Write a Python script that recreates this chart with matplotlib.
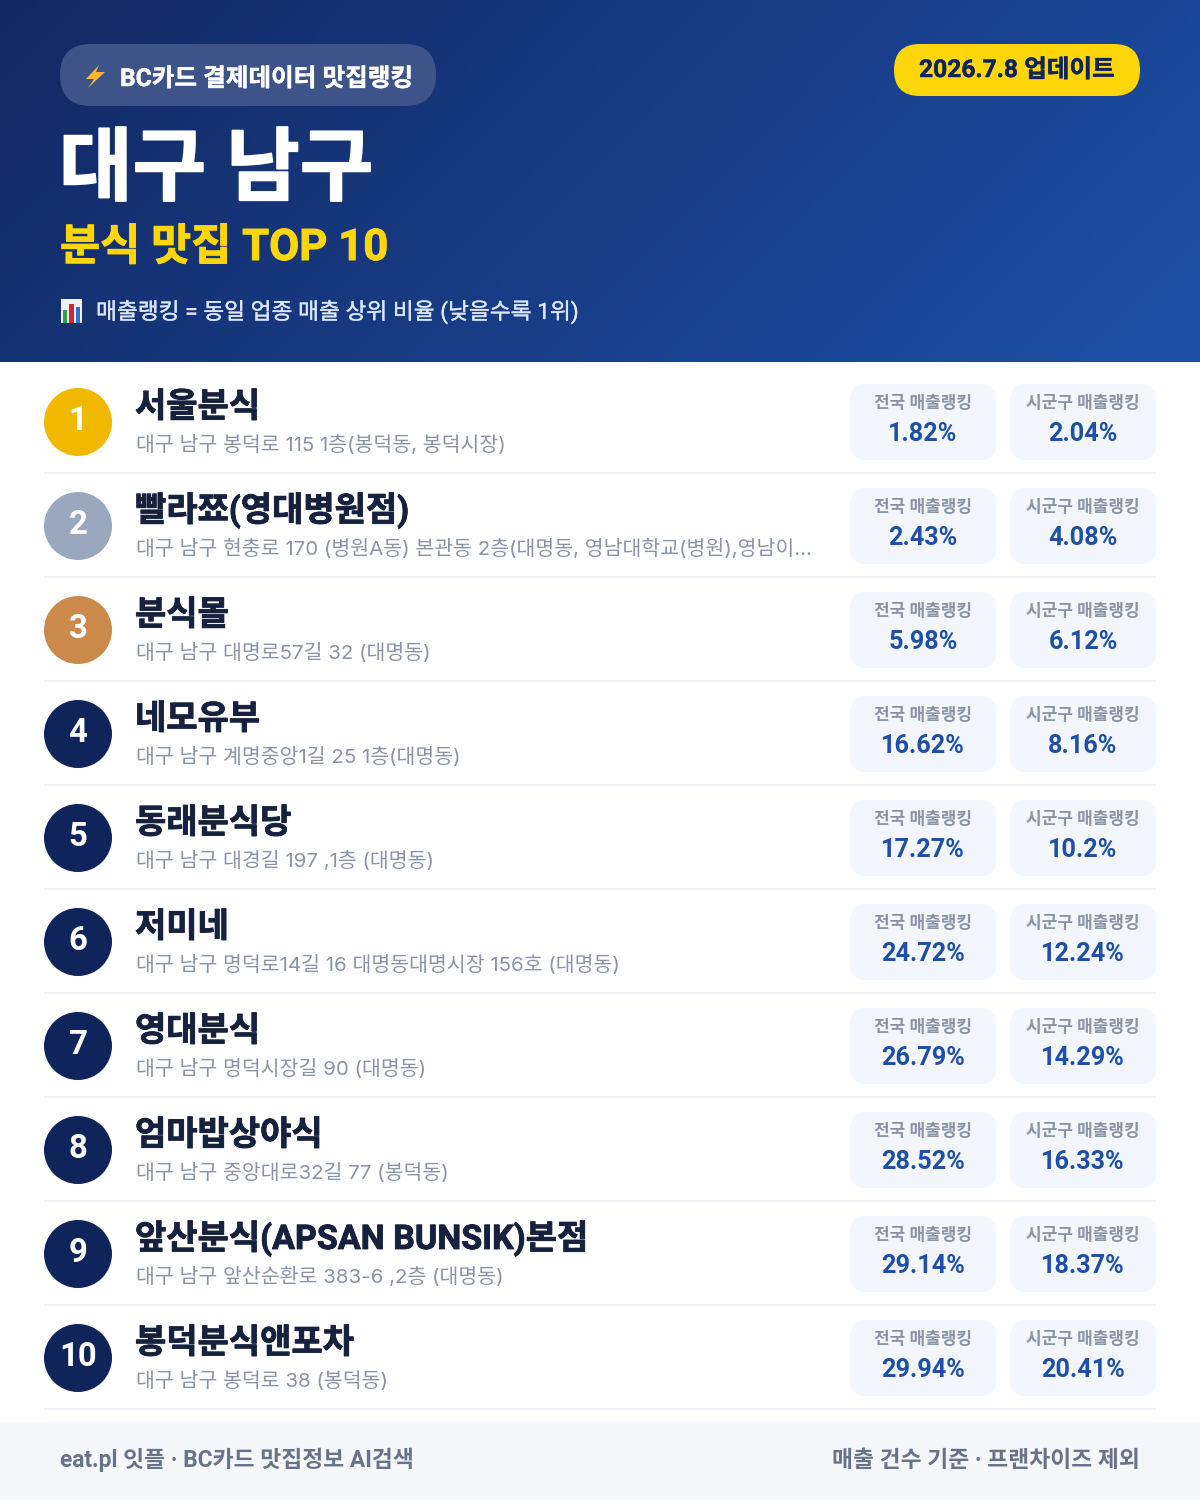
import matplotlib
matplotlib.use('Agg')
import matplotlib.pyplot as plt
import matplotlib.patheffects as pe
import numpy as np
from matplotlib.patches import Circle, FancyBboxPatch, Rectangle, Polygon

# 라틴/숫자는 Roboto, 한글은 CJK 폰트로
plt.rcParams['font.family'] = ['Roboto', 'Noto Sans CJK KR', 'DejaVu Sans']

# ---------- data ----------
names = ['서울분식', '빨라쬬(영대병원점)', '분식몰', '네모유부', '동래분식당',
         '저미네', '영대분식', '엄마밥상야식', '앞산분식(APSAN BUNSIK)본점', '봉덕분식앤포차']
addresses = ['대구 남구 봉덕로 115 1층(봉덕동, 봉덕시장)',
             '대구 남구 현충로 170 (병원A동) 본관동 2층(대명동, 영남대학교(병원),영남이…',
             '대구 남구 대명로57길 32 (대명동)',
             '대구 남구 계명중앙1길 25 1층(대명동)',
             '대구 남구 대경길 197 ,1층 (대명동)',
             '대구 남구 명덕로14길 16 대명동대명시장 156호 (대명동)',
             '대구 남구 명덕시장길 90 (대명동)',
             '대구 남구 중앙대로32길 77 (봉덕동)',
             '대구 남구 앞산순환로 383-6 ,2층 (대명동)',
             '대구 남구 봉덕로 38 (봉덕동)']
national = ['1.82%', '2.43%', '5.98%', '16.62%', '17.27%', '24.72%', '26.79%', '28.52%', '29.14%', '29.94%']
district = ['2.04%', '4.08%', '6.12%', '8.16%', '10.2%', '12.24%', '14.29%', '16.33%', '18.37%', '20.41%']
badge_colors = ['#f2b800', '#9aa8bf', '#cc8a4a'] + ['#10245c'] * 7


def px(size):
    # CSS 픽셀 -> pt
    return size * 0.72


def pill(ax, x0, y0, x1, y1, r, **kw):
    ax.add_patch(FancyBboxPatch((x0 + r, y0 + r), x1 - x0 - 2 * r, y1 - y0 - 2 * r,
                                boxstyle=f'round,pad={r},rounding_size={r}', lw=0, **kw))


def heavy(txt, lw):
    # 더 굵은 웨이트가 없어서 외곽선으로 보정
    txt.set_path_effects([pe.withStroke(linewidth=lw, foreground=txt.get_color())])


fig = plt.figure(figsize=(12, 15), dpi=100)
ax = fig.add_axes([0, 0, 1, 1])

# ---------- header ----------
h, w = 362, 1200
yy, xx = np.mgrid[0:h, 0:w]
t = (xx / w * 0.77 + yy / h * 0.23)
c0 = np.array([0x12, 0x28, 0x62]) / 255
c1 = np.array([0x1e, 0x50, 0xa8]) / 255
grad = c0 + (c1 - c0) * t[..., None]
ax.imshow(grad, extent=(0, 1200, 362, 0), aspect='auto', zorder=0)
ax.set_xlim(0, 1200)
ax.set_ylim(1500, 0)
ax.axis('off')

pill(ax, 60, 44, 436, 106, 31, fc='#3e5489', zorder=1)
ax.add_patch(Polygon([(99, 65), (86, 79), (94, 79), (88, 88), (105, 72), (96, 72)],
                     fc='#fbb92b', lw=0, zorder=2))
heavy(ax.text(120, 86, 'BC카드 결제데이터 맛집랭킹', color='white', fontsize=px(24.6), weight='bold', va='baseline', zorder=2), 0.3)

pill(ax, 894, 44, 1140, 96, 26, fc='#ffd60a', zorder=1)
heavy(ax.text(1017, 77, '2026.7.8 업데이트', color='#10245c', fontsize=px(24.6), weight='bold', ha='center', va='baseline', zorder=2), 0.3)

heavy(ax.text(59, 194, '대구 남구', color='white', fontsize=px(80), weight='bold', va='baseline', zorder=2), 1.2)
heavy(ax.text(60, 260, '분식 맛집 TOP 10', color='#ffd60a', fontsize=px(43.6), weight='bold', va='baseline', zorder=2), 0.7)

# 차트 아이콘
ax.add_patch(Rectangle((61, 299), 21, 24, fc='#eef2f8', lw=0, zorder=2))
ax.add_patch(Rectangle((63, 310), 4, 13, fc='#2e9e4f', lw=0, zorder=3))
ax.add_patch(Rectangle((69, 304), 5, 19, fc='#d8232a', lw=0, zorder=3))
ax.add_patch(Rectangle((76, 307), 4, 16, fc='#2f6fd0', lw=0, zorder=3))
heavy(ax.text(96, 319, '매출랭킹 = 동일 업종 매출 상위 비율 (낮을수록 1위)', color='#dbe6fa', fontsize=px(22.7), va='baseline', zorder=2), 0.25)

# ---------- rows ----------
for i in range(len(names)):
    y = 104 * i
    ax.add_patch(Circle((78, 422 + y), 34, fc=badge_colors[i], lw=0, zorder=2))
    ax.text(78, 430 + y, str(i + 1), color='white', fontsize=px(33), weight='bold', ha='center', va='baseline', zorder=3)
    heavy(ax.text(135, 417 + y, names[i], color='#16213e', fontsize=px(34), weight='bold', va='baseline', zorder=2), 0.6)
    ax.text(136, 451 + y, addresses[i], color='#8b94a6', fontsize=px(20.5), va='baseline', zorder=2,
            family=['Inter', 'Noto Sans CJK KR', 'DejaVu Sans'])
    for x0, x1, label, value in [(850, 996, '전국 매출랭킹', national[i]), (1010, 1156, '시군구 매출랭킹', district[i])]:
        pill(ax, x0, 384 + y, x1, 460 + y, 16, fc='#f3f6fd', zorder=1)
        ax.text((x0 + x1) / 2, 407.5 + y, label, color='#8b94a6', fontsize=px(17), weight='bold', ha='center', va='baseline', zorder=2)
        ax.text((x0 + x1) / 2, 441 + y, value, color='#1e50a8', fontsize=px(25.3), weight='bold', ha='center', va='baseline', zorder=2)
    ax.plot([44, 1156], [473 + y, 473 + y], color='#eef0f3', lw=1.5, solid_capstyle='butt', zorder=1)

# ---------- footer ----------
ax.add_patch(Rectangle((0, 1422), 1200, 78, fc='#f5f7fb', lw=0, zorder=1))
ax.text(60, 1467, 'eat.pl 잇플 · BC카드 맛집정보 AI검색', color='#68738a', fontsize=px(22.8), weight='bold', va='baseline', zorder=2)
ax.text(1140, 1467, '매출 건수 기준 · 프랜차이즈 제외', color='#68738a', fontsize=px(22.8), weight='bold', ha='right', va='baseline', zorder=2)

fig.savefig('out.png', dpi=100)
